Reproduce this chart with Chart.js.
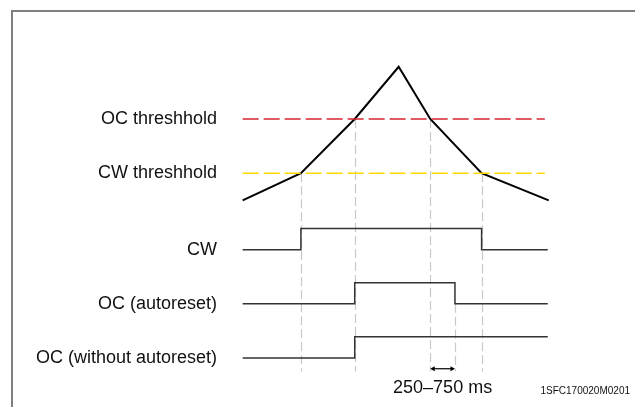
<!DOCTYPE html>
<html>
<head>
<meta charset="utf-8">
<script src="https://cdn.jsdelivr.net/npm/chart.js@4"></script>
<style>
  html, body { margin: 0; padding: 0; background: #fff; }
  canvas { display: block; }
</style>
</head>
<body>
<canvas id="timing" width="635" height="407"></canvas>
<script>
// --- data (time in arbitrary units, current relative to CW threshold) ---
const currentTimes = [0, 5.9, 11.35, 15.8, 19.0, 24.2, 31.0];
const currentValues = [0.5, 1, 2, 2.96, 2, 1, 0.5];

const cwThreshold = 1;
const ocThreshold = 2;
const thresholdSpan = [0, 30.6];

const cwTimes = [0, 5.9, 24.2, 30.9];
const cwStates = [0, 1, 0, 0];
const ocAutoTimes = [0, 11.35, 21.5, 30.9];
const ocAutoStates = [0, 1, 0, 0];
const ocLatchTimes = [0, 11.35, 30.9];
const ocLatchStates = [0, 1, 1];

const resetDelay = [19.0, 21.5];
const delayLabel = '250–750 ms';
const signalLabels = ['CW', 'OC (autoreset)', 'OC (without autoreset)'];
const thresholdLabels = ['OC threshhold', 'CW threshhold'];
const docCode = '1SFC170020M0201';

// row index on the 'yd' axis: CW on top
const ROW_CW = 2, ROW_AUTO = 1, ROW_LATCH = 0;
const HIGH = 0.39; // step height of a digital signal in row units

const FONT = '"Liberation Sans", Arial, sans-serif';

function points(xs, ys) {
    return xs.map((x, i) => ({ x: x, y: ys[i] }));
}
function rowPoints(xs, states, row) {
    return xs.map((x, i) => ({ x: x, y: row + states[i] * HIGH }));
}

const lineBase = { pointRadius: 0, fill: false, tension: 0, clip: false };

const datasets = [
    Object.assign({}, lineBase, {
        data: points(thresholdSpan, [ocThreshold, ocThreshold]),
        borderColor: '#d62532', borderWidth: 1.5, borderDash: [16, 5], yAxisID: 'y'
    }),
    Object.assign({}, lineBase, {
        data: points(thresholdSpan, [cwThreshold, cwThreshold]),
        borderColor: '#ffd800', borderWidth: 1.5, borderDash: [16, 5], yAxisID: 'y'
    }),
    Object.assign({}, lineBase, {
        data: points(currentTimes, currentValues),
        borderColor: '#000', borderWidth: 2, yAxisID: 'y'
    }),
    Object.assign({}, lineBase, {
        data: rowPoints(cwTimes, cwStates, ROW_CW),
        borderColor: '#333', borderWidth: 1.5, stepped: 'before', yAxisID: 'yd'
    }),
    Object.assign({}, lineBase, {
        data: rowPoints(ocAutoTimes, ocAutoStates, ROW_AUTO),
        borderColor: '#333', borderWidth: 1.5, stepped: 'before', yAxisID: 'yd'
    }),
    Object.assign({}, lineBase, {
        data: rowPoints(ocLatchTimes, ocLatchStates, ROW_LATCH),
        borderColor: '#333', borderWidth: 1.5, stepped: 'before', yAxisID: 'yd'
    }),
    // double arrow for the reset delay
    Object.assign({}, lineBase, {
        data: points([resetDelay[0] + 0.3, resetDelay[1] - 0.3], [-0.2, -0.2]),
        borderColor: '#000', borderWidth: 1.2, yAxisID: 'yd',
        pointRadius: 3, pointStyle: 'triangle', pointRotation: [-90, 90],
        pointBackgroundColor: '#000', pointBorderColor: '#000', pointBorderWidth: 0
    })
];

// frame, background, dashed guide lines
const backdrop = {
    id: 'backdrop',
    beforeDraw(chart) {
        const ctx = chart.ctx;
        ctx.save();
        ctx.fillStyle = '#fff';
        ctx.fillRect(0, 0, chart.width, chart.height);
        ctx.strokeStyle = '#808080';
        ctx.lineWidth = 2;
        ctx.strokeRect(12, 11, chart.width + 50, chart.height + 50);
        ctx.restore();
    },
    beforeDatasetsDraw(chart) {
        const { ctx, scales } = chart;
        const x = scales.x, y = scales.y, yd = scales.yd;
        const bottom = yd.getPixelForValue(-0.25);
        const guides = [
            [cwTimes[1], y.getPixelForValue(cwThreshold)],
            [ocAutoTimes[1], y.getPixelForValue(ocThreshold)],
            [resetDelay[0], y.getPixelForValue(ocThreshold)],
            [resetDelay[1], yd.getPixelForValue(ROW_AUTO)],
            [cwTimes[2], y.getPixelForValue(cwThreshold)]
        ];
        ctx.save();
        ctx.strokeStyle = '#c8c8c8';
        ctx.lineWidth = 1.2;
        ctx.setLineDash([9, 4]);
        guides.forEach(([t, top]) => {
            const px = Math.round(x.getPixelForValue(t)) + 0.5;
            ctx.beginPath();
            ctx.moveTo(px, top);
            ctx.lineTo(px, bottom);
            ctx.stroke();
        });
        ctx.restore();
    },
    afterDraw(chart) {
        const { ctx, scales } = chart;
        const x = scales.x, y = scales.y, yd = scales.yd;
        ctx.save();
        ctx.fillStyle = '#111';
        ctx.font = '18px ' + FONT;
        ctx.textAlign = 'right';
        ctx.textBaseline = 'middle';
        ctx.fillText(thresholdLabels[0], 217, y.getPixelForValue(ocThreshold));
        ctx.fillText(thresholdLabels[1], 217, y.getPixelForValue(cwThreshold));
        ctx.fillText(signalLabels[0], 217, yd.getPixelForValue(ROW_CW));
        ctx.fillText(signalLabels[1], 217, yd.getPixelForValue(ROW_AUTO));
        ctx.fillText(signalLabels[2], 217, yd.getPixelForValue(ROW_LATCH));

        ctx.textAlign = 'center';
        const mid = (x.getPixelForValue(resetDelay[0]) + x.getPixelForValue(resetDelay[1])) / 2;
        ctx.fillText(delayLabel, mid, yd.getPixelForValue(-0.56));

        ctx.font = '10px ' + FONT;
        ctx.textAlign = 'right';
        ctx.fillText(docCode, 630, yd.getPixelForValue(-0.62));
        ctx.restore();
    }
};

new Chart(document.getElementById('timing').getContext('2d'), {
    type: 'line',
    data: { datasets: datasets },
    options: {
        responsive: false,
        animation: false,
        layout: { padding: 0 },
        plugins: {
            legend: { display: false },
            tooltip: { enabled: false },
            title: { display: false }
        },
        scales: {
            x: { type: 'linear', min: -24.17, max: 39.33, display: false },
            y: { type: 'linear', min: -3.23, max: 4.117, display: false },
            yd: { type: 'linear', min: -0.833, max: 6.54, display: false }
        }
    },
    plugins: [backdrop]
});
</script>
</body>
</html>
